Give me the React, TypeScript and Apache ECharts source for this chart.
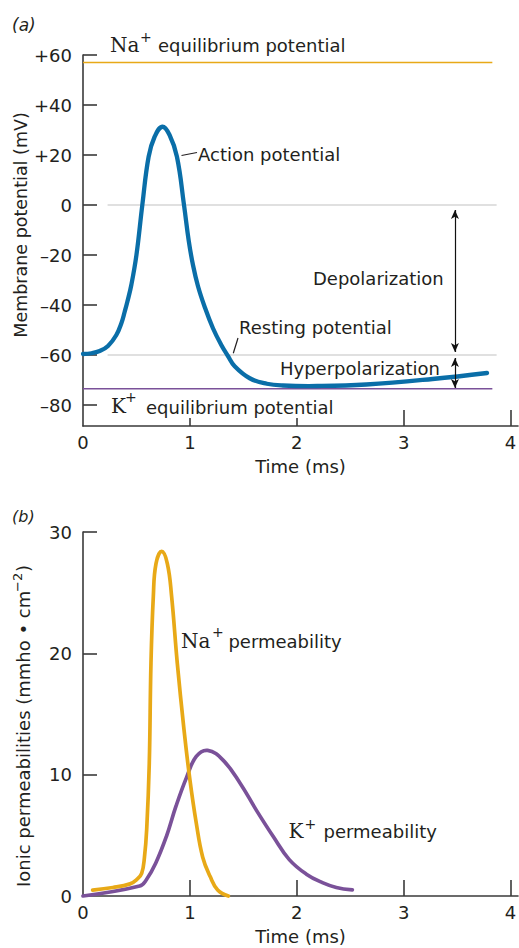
import React, { useEffect, useRef } from "react";
import * as echarts from "echarts";

const SANS = "'DejaVu Sans', sans-serif";
const SERIF = "'DejaVu Serif', serif";
const INK = "#231f20";
const AXIS = "#3a3a3a";
const BLUE = "#0a6ea8";
const GOLD = "#e8a917";
const PURPLE = "#7a5199";
const GRAY = "#d6d6d6";

// ---- shared time axis
const timeTicks = [0, 1, 2, 3, 4];
const timeMajorTicks = [1, 2, 3, 4];
const timeMax = 4.07;

// ---- panel (a): membrane potential
const membraneTicks = [60, 40, 20, 0, -20, -40, -60, -80];
const membraneMin = -88.4;
const membraneMax = 60;
const apTime = [0, 0.08, 0.156, 0.234, 0.312, 0.359, 0.39, 0.415, 0.452, 0.5, 0.555, 0.614, 0.67, 0.742, 0.81, 0.879, 0.945, 0.99, 1.029, 1.076, 1.138, 1.216, 1.294, 1.356, 1.419, 1.56, 1.72, 1.87, 2.19, 2.65, 3.27, 3.78];
const apVoltage = [-59.6, -59.3, -58.4, -56.4, -52, -47.3, -42.7, -38.7, -32, -20, 0, 19.3, 27.3, 31.3, 28, 19.3, 0, -14.5, -24, -32.5, -40.7, -49.3, -56, -60.4, -64.5, -69.3, -71.5, -72.2, -72.4, -71.8, -69.6, -67.2];
const naEquilibrium = 57;
const kEquilibrium = -73.5;
const restingLevel = -60;
const zeroLevel = 0;
const equilibriumSpan = [0, 3.83];
const referenceSpan = [0.23, 3.87];
const arrowTime = 3.48;
const depolarizationArrow = [-2, -58.8];
const hyperpolarizationArrow = [-61.2, -73.2];

// ---- panel (b): ionic permeabilities
const permTicks = [0, 10, 20, 30];
const naPermTime = [0.09, 0.28, 0.44, 0.5, 0.549, 0.575, 0.596, 0.62, 0.636, 0.658, 0.683, 0.736, 0.789, 0.829, 0.882, 0.945, 1.0, 1.06, 1.12, 1.19, 1.26, 1.36];
const naPermValue = [0.49, 0.7, 1.0, 1.33, 1.87, 3.2, 5.5, 10.9, 19.2, 24.7, 27.4, 28.4, 27.4, 24.7, 19.2, 13.7, 9.6, 6.0, 3.2, 1.6, 0.5, 0];
const kPermTime = [0, 0.53, 0.59, 0.68, 0.78, 0.87, 0.97, 1.06, 1.166, 1.31, 1.47, 1.62, 1.78, 1.93, 2.09, 2.24, 2.37, 2.52];
const kPermValue = [0, 0.82, 1.3, 2.7, 4.9, 7.4, 9.8, 11.5, 12.0, 11.2, 9.3, 7.1, 4.9, 3.0, 1.8, 1.1, 0.7, 0.5];

const pairs = (xs: number[], ys: number[]) => xs.map((x, i) => [x, ys[i]]);
const hline = (span: number[], v: number) => [[span[0], v], [span[1], v]];

// smooth curve through every data point, positioned by the axes' scales
function curveSeries(name: string, axis: number, xs: number[], ys: number[], color: string, width: number) {
  return {
    type: "custom",
    name,
    xAxisIndex: axis,
    yAxisIndex: axis,
    silent: true,
    z: 3,
    encode: { x: 0, y: 1 },
    data: pairs(xs, ys),
    renderItem: (params: any, api: any) => {
      if (params.dataIndexInside !== 0) return null;
      const pts: number[][] = [];
      for (let i = 0; i < params.dataInsideLength; i++) {
        pts.push(api.coord([api.value(0, i), api.value(1, i)]));
      }
      return {
        type: "polyline",
        shape: { points: pts, smooth: 0.42 },
        style: { stroke: color, lineWidth: width, fill: "none", lineCap: "round", lineJoin: "round" },
      };
    },
  };
}

function txt(text: string, x: number, y: number, opts: any = {}) {
  return {
    type: "text",
    x,
    y,
    z: 60,
    rotation: opts.rotation || 0,
    style: {
      text,
      fill: INK,
      fontFamily: opts.serif ? SERIF : SANS,
      fontSize: opts.size || 18,
      fontStyle: opts.italic ? "italic" : "normal",
      align: opts.align || "left",
      verticalAlign: "middle",
    },
  };
}

function buildOption() {
  const xAxisBase = (gridIndex: number) => ({
    type: "value",
    gridIndex,
    min: 0,
    max: timeMax,
    axisLine: { show: true, onZero: false, lineStyle: { color: AXIS, width: 1.6 } },
    axisTick: { show: true, inside: true, length: 16, customValues: timeMajorTicks, lineStyle: { color: AXIS, width: 1.6 } },
    axisLabel: { customValues: timeTicks, fontFamily: SANS, fontSize: 18, color: INK, margin: 7 },
    splitLine: { show: false },
    name: "Time (ms)",
    nameLocation: "middle",
    nameGap: 31,
    nameTextStyle: { fontFamily: SANS, fontSize: 18, color: INK },
  });

  return {
    animation: false,
    backgroundColor: "#ffffff",
    textStyle: { fontFamily: SANS },
    grid: [
      { left: 83, top: 55, width: 435, height: 371, outerBoundsMode: "none", containLabel: false },
      { left: 83, top: 532, width: 435, height: 364, outerBoundsMode: "none", containLabel: false },
    ],
    xAxis: [xAxisBase(0), xAxisBase(1)],
    yAxis: [
      {
        type: "value",
        gridIndex: 0,
        min: membraneMin,
        max: membraneMax,
        axisLine: { show: true, onZero: false, lineStyle: { color: AXIS, width: 1.6 } },
        axisTick: { show: true, inside: true, length: 14, customValues: membraneTicks, lineStyle: { color: AXIS, width: 1.6 } },
        axisLabel: {
          customValues: membraneTicks,
          fontFamily: SANS,
          fontSize: 18,
          color: INK,
          margin: 11,
          formatter: (v: number) => (v > 0 ? "+" + v : v < 0 ? "\u2013" + Math.abs(v) : "0"),
        },
        splitLine: { show: false },
      },
      {
        type: "value",
        gridIndex: 1,
        min: 0,
        max: 30,
        interval: 10,
        axisLine: { show: true, onZero: false, lineStyle: { color: AXIS, width: 1.6 } },
        axisTick: { show: true, inside: true, length: 14, customValues: permTicks.slice(1), lineStyle: { color: AXIS, width: 1.6 } },
        axisLabel: { customValues: permTicks, fontFamily: SANS, fontSize: 18, color: INK, margin: 11 },
        splitLine: { show: false },
      },
    ],
    series: [
      {
        type: "line", name: "Resting level", xAxisIndex: 0, yAxisIndex: 0, silent: true,
        data: hline(referenceSpan, restingLevel), symbol: "none",
        lineStyle: { color: GRAY, width: 1.7 }, z: 1,
      },
      {
        type: "line", name: "Zero level", xAxisIndex: 0, yAxisIndex: 0, silent: true,
        data: hline(referenceSpan, zeroLevel), symbol: "none",
        lineStyle: { color: GRAY, width: 1.7 }, z: 1,
        markLine: {
          silent: true,
          symbol: ["arrow", "arrow"],
          symbolSize: [6, 9],
          lineStyle: { color: "#111111", width: 1.2, type: "solid" },
          label: { show: false },
          emphasis: { disabled: true },
          data: [
            [{ coord: [arrowTime, depolarizationArrow[0]] }, { coord: [arrowTime, depolarizationArrow[1]] }],
            [{ coord: [arrowTime, hyperpolarizationArrow[0]] }, { coord: [arrowTime, hyperpolarizationArrow[1]] }],
          ],
        },
      },
      {
        type: "line", name: "Na+ equilibrium potential", xAxisIndex: 0, yAxisIndex: 0, silent: true,
        data: hline(equilibriumSpan, naEquilibrium), symbol: "none",
        lineStyle: { color: GOLD, width: 1.6 }, z: 2,
      },
      {
        type: "line", name: "K+ equilibrium potential", xAxisIndex: 0, yAxisIndex: 0, silent: true,
        data: hline(equilibriumSpan, kEquilibrium), symbol: "none",
        lineStyle: { color: PURPLE, width: 1.4 }, z: 2,
      },
      curveSeries("Action potential", 0, apTime, apVoltage, BLUE, 4.3),
      curveSeries("K+ permeability", 1, kPermTime, kPermValue, PURPLE, 3.7),
      curveSeries("Na+ permeability", 1, naPermTime, naPermValue, GOLD, 3.7),
    ],
    graphic: {
      elements: [
        txt("(a)", 12, 25, { italic: true, size: 17 }),
        txt("(b)", 12, 516, { italic: true, size: 16 }),
        // Na+ equilibrium potential
        txt("Na", 110, 44.8, { serif: true, size: 20 }),
        txt("+", 140, 36.7, { size: 14 }),
        txt("equilibrium potential", 158, 45.5),
        // K+ equilibrium potential (white backing)
        { type: "rect", z: 55, shape: { x: 106, y: 393, width: 236, height: 25 }, style: { fill: "#ffffff" } },
        txt("K", 111, 406.4, { serif: true, size: 20 }),
        txt("+", 125, 397, { size: 14 }),
        txt("equilibrium potential", 146, 407),
        // curve labels
        { type: "line", z: 60, shape: { x1: 181.5, y1: 155.5, x2: 197, y2: 152.5 }, style: { stroke: INK, lineWidth: 1.2 } },
        txt("Action potential", 198, 154.8),
        txt("Depolarization", 313, 278.8),
        { type: "line", z: 60, shape: { x1: 238, y1: 338, x2: 233.3, y2: 353.3 }, style: { stroke: INK, lineWidth: 1.2 } },
        txt("Resting potential", 239, 327.8),
        txt("Hyperpolarization", 280, 368.8),
        // panel (b) labels
        txt("Na", 181, 640.8, { serif: true, size: 20 }),
        txt("+", 212, 631.7, { size: 14 }),
        txt("permeability", 228.4, 641.5),
        txt("K", 288.5, 830.8, { serif: true, size: 20 }),
        txt("+", 304.5, 824, { size: 14 }),
        txt("permeability", 323.5, 831.5),
        // y-axis titles
        txt("Membrane potential (mV)", 20.6, 225, { rotation: Math.PI / 2, align: "center", size: 17.5 }),
        txt("Ionic permeabilities (mmho \u2022 cm", 23.8, 887, { rotation: Math.PI / 2, align: "left" }),
        txt("\u22122", 17.5, 592, { rotation: Math.PI / 2, align: "left", size: 13 }),
        txt(")", 23.8, 572, { rotation: Math.PI / 2, align: "left" }),
      ],
    },
  };
}

export default function App() {
  const ref = useRef<HTMLDivElement>(null);
  useEffect(() => {
    if (!ref.current) return;
    const chart = echarts.init(ref.current, undefined, { renderer: "svg" });
    chart.setOption(buildOption() as any);
    return () => chart.dispose();
  }, []);
  return (
    <div
      ref={ref}
      style={{ position: "absolute", left: 0, top: 0, width: 519, height: 948, background: "#fff" }}
    />
  );
}
